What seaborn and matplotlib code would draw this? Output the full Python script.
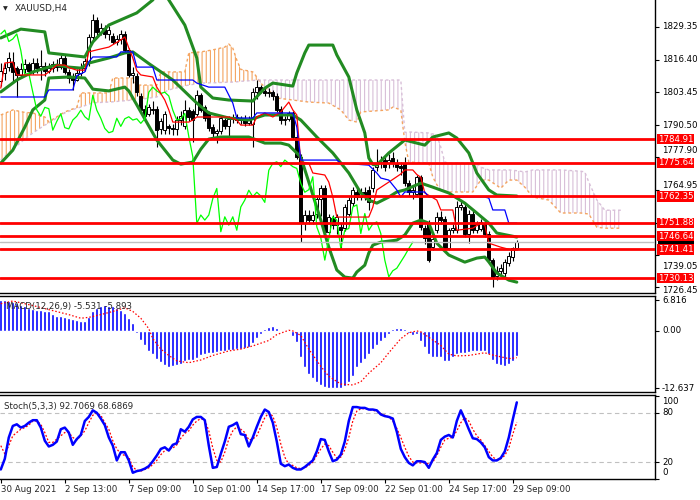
import numpy as np
import matplotlib
matplotlib.use("Agg")
import matplotlib.pyplot as plt
from matplotlib.patches import Rectangle
from matplotlib.transforms import blended_transform_factory, ScaledTranslation
import seaborn as sns

sns.set_style("white")
plt.rcParams["font.family"] = ["DejaVu Sans"]
plt.rcParams["hatch.linewidth"] = 0.8

# ---- XAUUSD H4 bars ----
bar_open = [1808.0, 1810.9, 1813.6, 1815.5, 1812.9, 1810.3, 1812.5, 1814.5, 1812.0, 1815.0,
            1813.0, 1814.0, 1812.0, 1813.0, 1814.5, 1813.5, 1816.9, 1811.5, 1809.0, 1808.5,
            1811.0, 1813.0, 1815.0, 1825.4, 1832.0, 1827.4, 1829.0, 1826.5, 1825.5, 1823.5,
            1824.5, 1826.5, 1820.0, 1810.3, 1810.0, 1802.0, 1797.0, 1795.0, 1796.5, 1797.0,
            1789.0, 1788.5, 1790.0, 1789.5, 1789.0, 1792.5, 1790.0, 1796.4, 1796.0, 1795.0,
            1802.3, 1797.8, 1795.1, 1789.9, 1787.5, 1788.0, 1792.5, 1790.0, 1793.0, 1793.8,
            1792.5, 1793.0, 1791.2, 1791.0, 1803.5, 1805.5, 1804.0, 1803.0, 1803.5, 1802.0,
            1797.0, 1792.5, 1793.0, 1795.1, 1786.0, 1778.0, 1751.7, 1755.0, 1753.0, 1755.6,
            1761.5, 1765.5, 1748.4, 1754.0, 1751.0, 1750.3, 1749.7, 1755.6, 1759.6, 1764.0,
            1762.2, 1764.0, 1765.0, 1765.5, 1774.1, 1775.4, 1776.7, 1775.4, 1777.4, 1775.4,
            1774.5, 1775.4, 1767.5, 1764.0, 1763.5, 1770.1, 1750.0, 1752.0, 1742.4, 1749.0,
            1754.3, 1753.6, 1741.8, 1749.0, 1749.0, 1758.2, 1758.2, 1747.7, 1755.6, 1749.0,
            1749.5, 1752.0, 1747.7, 1737.2, 1731.0, 1733.0, 1732.0, 1736.0, 1738.5, 1741.8]
bar_high = [1815.0, 1814.9, 1819.5, 1819.5, 1814.0, 1815.0, 1816.5, 1815.5, 1817.0, 1817.0,
            1820.0, 1815.5, 1815.0, 1816.0, 1816.5, 1818.0, 1818.0, 1812.5, 1811.0, 1812.5,
            1815.0, 1817.0, 1826.5, 1834.3, 1833.0, 1831.0, 1830.0, 1829.5, 1827.0, 1826.0,
            1828.0, 1827.5, 1821.0, 1813.6, 1811.0, 1803.0, 1798.5, 1799.0, 1800.0, 1798.0,
            1793.5, 1796.0, 1791.0, 1791.0, 1794.0, 1796.0, 1800.4, 1797.5, 1797.0, 1804.3,
            1803.0, 1798.5, 1796.0, 1791.0, 1789.0, 1794.5, 1793.5, 1794.0, 1795.0, 1795.0,
            1794.0, 1794.5, 1794.0, 1805.0, 1808.5, 1806.5, 1805.0, 1805.0, 1804.5, 1803.0,
            1798.0, 1794.0, 1796.0, 1796.0, 1787.0, 1779.0, 1757.0, 1757.0, 1756.5, 1763.0,
            1767.0, 1767.0, 1755.5, 1755.0, 1755.6, 1752.0, 1759.5, 1762.0, 1766.0, 1765.5,
            1765.5, 1766.0, 1766.5, 1774.0, 1781.0, 1778.5, 1778.0, 1779.0, 1780.0, 1777.0,
            1776.0, 1778.0, 1769.0, 1766.5, 1771.0, 1771.0, 1751.0, 1753.0, 1747.0, 1756.0,
            1756.5, 1754.5, 1750.0, 1751.5, 1760.5, 1761.0, 1760.0, 1757.0, 1757.0, 1752.5,
            1753.5, 1753.0, 1748.5, 1738.0, 1735.0, 1735.5, 1737.5, 1740.5, 1742.5, 1745.0]
bar_low = [1806.0, 1808.3, 1812.0, 1807.0, 1801.7, 1809.0, 1811.0, 1810.0, 1810.5, 1811.0,
           1808.3, 1810.0, 1811.0, 1811.5, 1812.0, 1812.5, 1810.5, 1807.0, 1804.3, 1808.0,
           1810.0, 1812.0, 1814.0, 1824.0, 1825.5, 1826.0, 1825.0, 1824.0, 1822.5, 1822.0,
           1822.5, 1819.0, 1809.5, 1807.0, 1802.0, 1795.5, 1792.0, 1794.0, 1795.0, 1782.0,
           1787.0, 1787.0, 1787.0, 1786.5, 1786.5, 1790.5, 1789.0, 1792.0, 1784.0, 1794.0,
           1795.5, 1792.0, 1788.0, 1786.0, 1783.3, 1787.0, 1789.0, 1786.0, 1791.5, 1791.5,
           1791.0, 1790.0, 1790.5, 1782.0, 1801.0, 1803.0, 1802.0, 1801.5, 1800.5, 1795.5,
           1791.0, 1790.5, 1792.0, 1785.0, 1777.0, 1744.4, 1749.0, 1751.5, 1751.5, 1754.0,
           1754.5, 1746.4, 1747.5, 1749.5, 1747.7, 1741.8, 1748.5, 1754.5, 1758.5, 1761.0,
           1761.0, 1761.0, 1756.9, 1764.0, 1772.5, 1773.5, 1772.5, 1773.5, 1774.0, 1772.5,
           1771.0, 1766.5, 1762.5, 1761.5, 1762.5, 1749.0, 1743.5, 1736.5, 1741.0, 1748.0,
           1751.5, 1741.0, 1741.0, 1748.0, 1748.0, 1757.0, 1746.5, 1743.8, 1748.0, 1748.0,
           1748.5, 1746.5, 1736.0, 1726.7, 1729.5, 1731.5, 1730.5, 1735.0, 1737.0, 1741.0]
bar_close = [1812.0, 1812.9, 1816.9, 1811.5, 1810.3, 1812.5, 1814.5, 1812.0, 1815.0, 1813.0,
             1814.0, 1812.0, 1813.0, 1814.5, 1813.5, 1816.9, 1811.5, 1809.0, 1808.5, 1811.0,
             1813.5, 1816.0, 1825.4, 1832.0, 1827.4, 1829.0, 1826.5, 1828.0, 1823.5, 1824.5,
             1826.5, 1820.0, 1810.3, 1810.9, 1803.5, 1796.5, 1794.0, 1797.5, 1797.0, 1788.5,
             1792.0, 1795.0, 1789.5, 1789.0, 1792.5, 1794.0, 1796.4, 1793.8, 1792.5, 1802.3,
             1796.4, 1793.2, 1789.2, 1787.5, 1788.0, 1793.2, 1790.0, 1793.0, 1793.8, 1792.5,
             1793.0, 1791.2, 1793.0, 1803.5, 1805.5, 1804.0, 1803.0, 1803.5, 1802.0, 1796.4,
             1792.5, 1793.0, 1795.1, 1786.0, 1778.0, 1751.7, 1755.0, 1753.0, 1755.0, 1761.5,
             1765.5, 1748.4, 1754.3, 1751.0, 1754.3, 1749.0, 1758.2, 1760.9, 1764.8, 1762.2,
             1764.0, 1762.5, 1760.0, 1772.7, 1775.4, 1776.0, 1774.1, 1776.7, 1775.4, 1774.1,
             1773.4, 1767.5, 1764.0, 1765.0, 1770.1, 1750.3, 1746.0, 1737.2, 1745.7, 1754.3,
             1753.0, 1741.8, 1749.0, 1749.7, 1758.2, 1759.0, 1747.7, 1755.6, 1749.0, 1751.5,
             1752.3, 1747.7, 1737.2, 1730.6, 1733.0, 1734.0, 1736.5, 1739.0, 1741.8, 1744.3]
last_price = 1744.3

# Bollinger bands (bar index, price)
bb_up_x = [0, 5, 11, 12, 21, 23, 27, 34, 38, 40, 42, 46, 49, 50, 53, 57, 63, 66, 68, 73, 74, 76, 77,
           83, 84, 87, 89, 91, 92, 93, 94, 97, 101, 106, 108, 112, 114, 117, 119, 122, 124, 129]
bb_up_y = [1824.9, 1828.4, 1827.3, 1819.0, 1817.4, 1823.3, 1830.0, 1834.8, 1839.9, 1845.0, 1839.9,
           1830.0, 1817.0, 1805.5, 1801.2, 1800.4, 1800.0, 1805.1, 1807.1, 1805.9, 1811.1, 1819.0,
           1822.1, 1822.1, 1818.2, 1809.5, 1796.5, 1787.4, 1777.5, 1775.0, 1774.7, 1779.5, 1784.6,
           1782.6, 1785.8, 1787.4, 1785.4, 1779.5, 1771.6, 1764.9, 1762.9, 1762.5]
bb_mid_x = [0, 4, 8, 12, 14, 17, 20, 22, 27, 31, 33, 37, 43, 49, 52, 57, 62, 66, 73, 75, 79, 83,
            87, 90, 92, 94, 97, 99, 101, 105, 108, 112, 116, 119, 122, 124, 129]
bb_mid_y = [1803.6, 1808.3, 1811.5, 1813.4, 1814.2, 1813.4, 1813.0, 1815.0, 1817.0, 1819.0, 1819.4,
            1814.8, 1808.3, 1799.2, 1795.3, 1793.3, 1792.5, 1794.5, 1794.5, 1792.5, 1785.8, 1779.5,
            1771.6, 1763.7, 1760.9, 1759.7, 1762.1, 1764.1, 1764.9, 1767.6, 1766.0, 1763.7, 1759.7,
            1755.8, 1751.8, 1747.9, 1746.3]
bb_low_x = [0, 3, 6, 8, 11, 12, 17, 21, 23, 27, 31, 32, 34, 39, 43, 45, 48, 50, 52, 55, 62, 66, 70,
            72, 75, 77, 80, 82, 84, 86, 88, 89, 91, 92, 93, 95, 99, 101, 103, 105, 107, 109, 112,
            116, 119, 121, 122, 124, 127, 129]
bb_low_y = [1775.5, 1780.6, 1789.7, 1796.5, 1800.4, 1809.1, 1809.5, 1809.1, 1804.7, 1804.0, 1805.5,
            1804.0, 1798.5, 1784.6, 1776.7, 1775.1, 1775.9, 1781.0, 1785.0, 1785.8, 1785.8, 1783.4,
            1783.4, 1782.6, 1777.9, 1768.0, 1753.0, 1742.3, 1733.3, 1730.5, 1730.1, 1732.5, 1735.2,
            1740.0, 1743.1, 1744.3, 1745.1, 1747.1, 1751.8, 1753.0, 1751.8, 1743.9, 1739.2, 1736.4,
            1738.0, 1738.4, 1736.5, 1732.1, 1729.3, 1728.5]

# Ichimoku lines
tenkan_x = [0, 1, 3, 4, 11, 12, 14, 16, 17, 19, 21, 22, 24, 27, 30, 31, 32, 33, 34, 35, 38, 39, 41,
            42, 43, 47, 48, 49, 57, 59, 60, 63, 64, 66, 68, 70, 72, 73, 74, 75, 77, 78, 81, 82, 83,
            84, 92, 93, 94, 97, 100, 101, 103, 104, 105, 106, 109, 110, 113, 114, 118, 120, 121,
            122, 125, 128, 129]
tenkan_y = [1805.1, 1815.0, 1815.4, 1810.3, 1810.3, 1811.5, 1814.2, 1814.2, 1813.2, 1812.2, 1812.2,
            1819.4, 1820.2, 1821.3, 1824.1, 1825.3, 1821.0, 1817.0, 1812.0, 1810.3, 1809.5, 1805.5,
            1800.4, 1796.5, 1791.7, 1791.7, 1792.5, 1793.7, 1793.7, 1792.5, 1790.5, 1790.5, 1793.7,
            1795.3, 1793.7, 1795.7, 1799.6, 1796.5, 1794.5, 1776.0, 1775.5, 1771.6, 1770.8, 1768.0,
            1762.1, 1754.2, 1754.2, 1758.1, 1764.9, 1768.0, 1771.2, 1772.8, 1772.8, 1771.0, 1769.9,
            1763.7, 1760.9, 1757.0, 1757.0, 1749.0, 1749.8, 1751.8, 1751.0, 1743.9, 1742.3, 1741.1,
            1741.1]
kijun_x = [0, 11, 12, 18, 19, 21, 22, 23, 29, 30, 33, 34, 38, 39, 48, 49, 52, 56, 58, 59, 63, 64,
           73, 74, 75, 84, 85, 92, 94, 95, 97, 99, 100, 101, 106, 107, 121, 122, 123, 126, 127, 129]
kijun_y = [1801.6, 1801.6, 1804.4, 1804.4, 1810.0, 1811.5, 1815.5, 1817.4, 1817.4, 1819.4, 1819.4,
           1813.4, 1813.4, 1808.3, 1808.3, 1807.1, 1805.5, 1805.5, 1799.2, 1793.3, 1793.3, 1795.3,
           1795.3, 1789.7, 1776.7, 1776.7, 1775.5, 1774.7, 1771.6, 1769.6, 1768.8, 1764.9, 1762.1,
           1764.1, 1764.1, 1762.1, 1762.1, 1761.7, 1757.0, 1757.0, 1751.8, 1751.8]
cloud_x = [0, 3, 6, 8, 11, 12, 16, 19, 20, 23, 27, 28, 33, 34, 39, 40, 42, 46, 47, 50, 53, 56, 57,
           58, 59, 60, 63, 64, 65, 69, 73, 77, 82, 85, 87, 89, 90, 97, 98, 100, 101, 102, 107, 108,
           109, 110, 111, 112, 118, 119, 120, 122, 125, 127, 129, 131, 133, 137, 140, 145, 146,
           147, 149, 151, 155]
span_a = [1794.5, 1796.5, 1795.5, 1795.3, 1793.7, 1791.8, 1795.7, 1797.5, 1803.2, 1803.2, 1803.2,
          1809.1, 1809.1, 1806.3, 1806.3, 1811.5, 1811.5, 1811.5, 1819.0, 1819.4, 1820.2, 1821.3,
          1822.5, 1820.9, 1816.2, 1812.5, 1811.5, 1809.5, 1807.0, 1801.2, 1800.4, 1799.6, 1799.2,
          1796.5, 1792.5, 1791.7, 1795.7, 1796.5, 1797.6, 1796.5, 1784.0, 1775.9, 1775.5, 1770.0,
          1767.0, 1764.9, 1764.5, 1764.1, 1764.1, 1766.5, 1768.8, 1768.8, 1765.6, 1768.8, 1768.8,
          1766.0, 1762.1, 1760.9, 1755.8, 1755.8, 1755.6, 1755.4, 1750.2, 1749.8, 1749.8]
span_b = [1776.7, 1781.0, 1785.0, 1787.4, 1790.5, 1791.3, 1795.3, 1797.2, 1797.6, 1799.3, 1799.6,
          1799.7, 1800.4, 1800.5, 1801.6, 1802.7, 1804.4, 1806.0, 1806.3, 1807.1, 1807.2, 1807.4,
          1807.4, 1807.5, 1807.6, 1807.8, 1808.1, 1808.3, 1808.3, 1808.3, 1808.3, 1808.3, 1808.3,
          1808.3, 1808.3, 1808.3, 1808.3, 1808.3, 1808.3, 1808.3, 1787.6, 1787.8, 1787.4, 1787.0,
          1786.6, 1781.8, 1775.9, 1775.5, 1775.5, 1775.5, 1773.9, 1772.8, 1772.8, 1772.8, 1772.5,
          1772.0, 1772.8, 1772.8, 1772.8, 1772.3, 1772.0, 1768.0, 1761.0, 1756.9, 1756.9]

levels = [1784.91, 1775.64, 1762.35, 1751.88, 1746.64, 1741.41, 1730.13]
price_ticks = [1829.35, 1816.40, 1803.45, 1790.50, 1777.90, 1764.95, 1752.00, 1739.05, 1726.45]

# MACD(12,26,9)
macd_hist = [6.8, 6.8, 6.7, 6.4, 6.2, 5.7, 5.4, 5.1, 4.9, 4.7,
             4.6, 4.5, 4.3, 3.7, 3.4, 3.3, 3.0, 2.8, 2.6, 2.5,
             2.2, 2.2, 3.0, 4.5, 5.1, 5.4, 5.7, 5.4, 5.4, 5.1,
             4.7, 3.9, 2.8, 1.7, -0.4, -1.9, -3.2, -4.4, -5.1, -6.1,
             -6.9, -7.5, -7.9, -7.8, -7.5, -7.2, -6.7, -6.4, -6.3, -5.9,
             -5.4, -5.0, -4.8, -4.8, -4.6, -4.5, -4.4, -4.2, -4.2, -4.0,
             -3.9, -3.8, -3.5, -2.6, -1.6, -0.6, 0.4, 0.8, 1.1, 0.7,
             0.3, 0.05, -0.1, -1.1, -2.5, -5.7, -7.9, -9.4, -10.4, -11.2,
             -11.8, -12.3, -12.6, -12.64, -12.6, -12.5, -12.2, -11.2, -10.0, -8.0,
             -7.0, -6.1, -5.1, -4.0, -3.1, -2.3, -1.6, -0.6, 0.4, 0.7,
             0.7, 0.4, -0.4, -0.8, -0.6, -2.3, -3.5, -5.1, -5.7, -5.7,
             -5.7, -6.6, -6.6, -5.7, -5.1, -4.8, -4.8, -4.6, -4.5, -4.5,
             -4.5, -4.5, -5.1, -6.4, -7.2, -7.6, -7.8, -7.3, -6.6, -5.531]
macd_sig_x = [0, 3, 8, 12, 17, 20, 22, 25, 28, 31, 33, 35, 37, 38, 40, 42, 44, 47, 50, 53, 57, 60,
              63, 67, 69, 72, 73, 75, 77, 80, 82, 85, 88, 90, 92, 95, 97, 100, 102, 104, 105, 107,
              110, 112, 114, 117, 121, 122, 125, 127, 129]
macd_sig_y = [6.0, 6.6, 5.6, 4.7, 3.6, 2.8, 3.0, 3.6, 4.3, 5.1, 4.3, 2.8, 0.5, -1.7, -4.0, -5.4,
              -6.6, -7.0, -6.4, -5.4, -4.4, -4.0, -3.3, -2.1, -0.8, 0.15, 0.0, -1.0, -4.0, -7.8,
              -10.0, -11.7, -11.9, -11.2, -9.3, -7.0, -4.8, -1.7, -0.4, 0.0, -0.2, -1.4, -3.2,
              -5.1, -5.5, -5.4, -4.8, -5.1, -5.7, -6.1, -5.893]

# Stochastic(5,3,3)
stoch_k = [11, 24, 50, 64, 66, 62, 64, 68, 71, 71,
           62, 46, 39, 41, 45, 60, 62, 56, 41, 48,
           53, 70, 75, 83, 80, 73, 65, 50, 40, 22,
           32, 32, 22, 7, 9, 10, 12, 15, 21, 28,
           36, 38, 34, 41, 43, 60, 57, 63, 72, 75,
           75, 71, 40, 13, 14, 30, 45, 63, 65, 68,
           54, 53, 39, 50, 63, 75, 84, 81, 68, 45,
           18, 15, 17, 13, 11, 11, 14, 18, 22, 33,
           48, 47, 33, 21, 23, 29, 45, 70, 87, 87,
           86, 86, 84, 84, 83, 78, 76, 75, 73, 57,
           36, 26, 19, 16, 21, 21, 20, 13, 23, 31,
           47, 51, 53, 50, 70, 83, 72, 60, 49, 48,
           44, 38, 26, 22, 22, 25, 33, 50, 72, 92.7069]
stoch_d = [40, 30, 40, 52, 56, 60, 62, 65, 70, 70,
           66, 56, 44, 44, 48, 52, 56, 56, 50, 47,
           52, 58, 68, 77, 80, 77, 68, 60, 46, 36,
           30, 28, 26, 14, 10, 9, 11, 13, 17, 22,
           29, 34, 36, 37, 41, 49, 55, 58, 65, 70,
           73, 71, 58, 37, 22, 20, 32, 48, 58, 63,
           60, 56, 47, 48, 52, 63, 74, 80, 76, 62,
           42, 26, 17, 16, 13, 12, 13, 16, 20, 28,
           36, 42, 40, 32, 25, 26, 35, 50, 70, 82,
           85, 85, 84, 83, 82, 79, 77, 75, 70, 61,
           50, 38, 27, 20, 19, 19, 19, 18, 20, 28,
           38, 47, 49, 50, 58, 68, 74, 70, 60, 52,
           47, 40, 33, 26, 23, 24, 28, 37, 54, 68.6869]

date_labels = ["30 Aug 2021", "2 Sep 13:00", "7 Sep 09:00", "10 Sep 01:00", "14 Sep 17:00",
               "17 Sep 09:00", "22 Sep 01:00", "24 Sep 17:00", "29 Sep 09:00"]

# ---------------------------------------------------------------
W, H = 700, 500
fig = plt.figure(figsize=(7, 5), dpi=100)


def px_axes(x0, y0, x1, y1):
    return fig.add_axes([x0 / W, 1 - y1 / H, (x1 - x0) / W, (y1 - y0) / H])


ax = px_axes(0, 0, 655, 293)
axm = px_axes(0, 296, 655, 392)
axs = px_axes(0, 394.5, 655, 478.5)
FS = 6.2


def right_text(a, y, s, dx=7, dy=0, **kw):
    tr = blended_transform_factory(a.transAxes, a.transData) + \
        ScaledTranslation(dx / 100, -dy / 100, fig.dpi_scale_trans)
    a.text(1.0, y, s, transform=tr, clip_on=False, va="center", ha="left",
           fontsize=FS, **kw)


def line(a, xs, ys, color, lw, ls="-", z=3):
    sns.lineplot(x=xs, y=ys, ax=a, color=color, lw=lw, linestyle=ls,
                 estimator=None, sort=False, legend=False, zorder=z)


bars = np.arange(len(bar_close))

# cloud
cx = np.array(cloud_x, dtype=float)
sa = np.array(span_a)
sb2 = np.array(span_b)
ax.fill_between(cx, sa, sb2, where=sa >= sb2, interpolate=True, facecolor="none",
                edgecolor="#F4A460", hatch="||||", lw=0, zorder=1)
ax.fill_between(cx, sa, sb2, where=sa < sb2, interpolate=True, facecolor="none",
                edgecolor="#D8BFD8", hatch="||||", lw=0, zorder=1)
line(ax, cloud_x, span_a, "#F4A460", 1.0, (0, (2, 2)), z=1.2)
line(ax, cloud_x, span_b, "#D8BFD8", 1.0, (0, (2, 2)), z=1.2)

# candles
o = np.array(bar_open)
c = np.array(bar_close)
ax.vlines(bars, bar_low, bar_high, color="black", lw=0.8, zorder=2)
ax.bar(bars, np.maximum(np.abs(c - o), 0.35), bottom=np.minimum(o, c), width=0.72,
       color=np.where(c >= o, "white", "black"), edgecolor="black", lw=0.7, zorder=2.5)

# indicators
for xs, ys in [(bb_up_x, bb_up_y), (bb_mid_x, bb_mid_y), (bb_low_x, bb_low_y)]:
    line(ax, xs, ys, "#228B22", 2.2, z=3)
line(ax, list(bars[26:] - 26), bar_close[26:], "#00FF00", 0.9, z=3.2)
line(ax, tenkan_x, tenkan_y, "#FF0000", 0.9, z=3.3)
line(ax, kijun_x, kijun_y, "#0000FF", 0.9, z=3.4)

ax.axhline(last_price, color="#C0C0C0", lw=1, zorder=4)
for lv in levels:
    ax.axhline(lv, color="#FF0000", lw=2.0, zorder=5)

ax.set_xlim(-0.2, 163.55)
ax.set_ylim(1724.22, 1839.89)
ax.set_xticks([])
ax.yaxis.tick_right()
ax.set_yticks(price_ticks)
ax.set_yticklabels([])
ax.tick_params(axis="y", length=3, width=0.8, color="black")

# right-axis price labels (1752.00 sits fully under the 1751.88 marker, so no text)
label_shift = {1777.90: -7, 1764.95: -4, 1739.05: 11, 1726.45: 3}
for p in price_ticks:
    if p == 1752.00:
        continue
    right_text(ax, p, f"{p:.2f}", dy=label_shift.get(p, 0), color="black", zorder=6)

# current-price marker, mostly hidden behind the red level tags
ax.add_patch(Rectangle((1.0 + 3 / 655, last_price - 1.6), 36 / 655, 3.2, facecolor="black",
                       edgecolor="none", clip_on=False, zorder=6.5,
                       transform=blended_transform_factory(ax.transAxes, ax.transData)))
for lv in levels:
    right_text(ax, lv, f"{lv:.2f}", dx=3, color="white", zorder=7,
               bbox=dict(boxstyle="square,pad=0.08", fc="#FF0000", ec="none"))

# MACD panel
axm.bar(bars, macd_hist, width=0.75, color="#0000FF", zorder=2)
line(axm, macd_sig_x, macd_sig_y, "#FF0000", 0.9, (0, (1.2, 1.6)), z=3)
axm.set_xlim(-0.2, 163.55)
axm.set_ylim(-13.45, 7.7)
axm.set_xticks([])
axm.yaxis.tick_right()
axm.set_yticks([6.816, 0.0, -12.637])
axm.set_yticklabels([])
axm.tick_params(axis="y", length=3, width=0.8, color="black")
for v, s in [(6.816, "6.816"), (0.0, "0.00"), (-12.637, "-12.637")]:
    right_text(axm, v, s, color="black")
axm.text(0.009, 0.89, "MACD(12,26,9) -5.531 -5.893", transform=axm.transAxes,
         fontsize=FS, va="center", ha="left", zorder=6)

# Stochastic panel
axs.axhline(80, color="#C0C0C0", lw=0.8, linestyle=(0, (4, 3)), zorder=1)
axs.axhline(20, color="#C0C0C0", lw=0.8, linestyle=(0, (4, 3)), zorder=1)
line(axs, list(bars), stoch_d, "#FF0000", 0.9, (0, (1.5, 1.5)), z=2)
line(axs, list(bars), stoch_k, "#0000FF", 1.8, z=3)
axs.set_xlim(-0.2, 163.55)
axs.set_ylim(0.6, 102.3)
axs.yaxis.tick_right()
axs.set_yticks([100, 80, 20, 0])
axs.set_yticklabels([])
axs.tick_params(axis="y", length=3, width=0.8, color="black")
for v, s, d in [(100, "100", 5), (80, "80", 0), (20, "20", 0), (0, "0", -6)]:
    right_text(axs, v, s, dy=d, color="black")
axs.text(0.006, 0.86, "Stoch(5,3,3) 92.7069 68.6869", transform=axs.transAxes,
         fontsize=FS, va="center", ha="left", zorder=6)

axs.set_xticks(bars[::16])
axs.set_xticklabels(date_labels, fontsize=FS, ha="left")
axs.tick_params(axis="x", length=3, width=0.8, color="black", pad=2, bottom=True)

for a, top in [(ax, False), (axm, True), (axs, True)]:
    a.set_facecolor("white")
    a.spines["left"].set_visible(False)
    a.spines["top"].set_visible(top)
    for sp in ["right", "bottom", "top"]:
        a.spines[sp].set_color("black")
        a.spines[sp].set_linewidth(1.0)
    a.set_xlabel("")
    a.set_ylabel("")

fig.text(3 / W, 1 - 8.5 / H, "\u25BC", fontsize=4.5, va="center", ha="left")
fig.text(15 / W, 1 - 8 / H, "XAUUSD,H4", fontsize=6.5, va="center", ha="left")

fig.savefig("out.png", dpi=100)
